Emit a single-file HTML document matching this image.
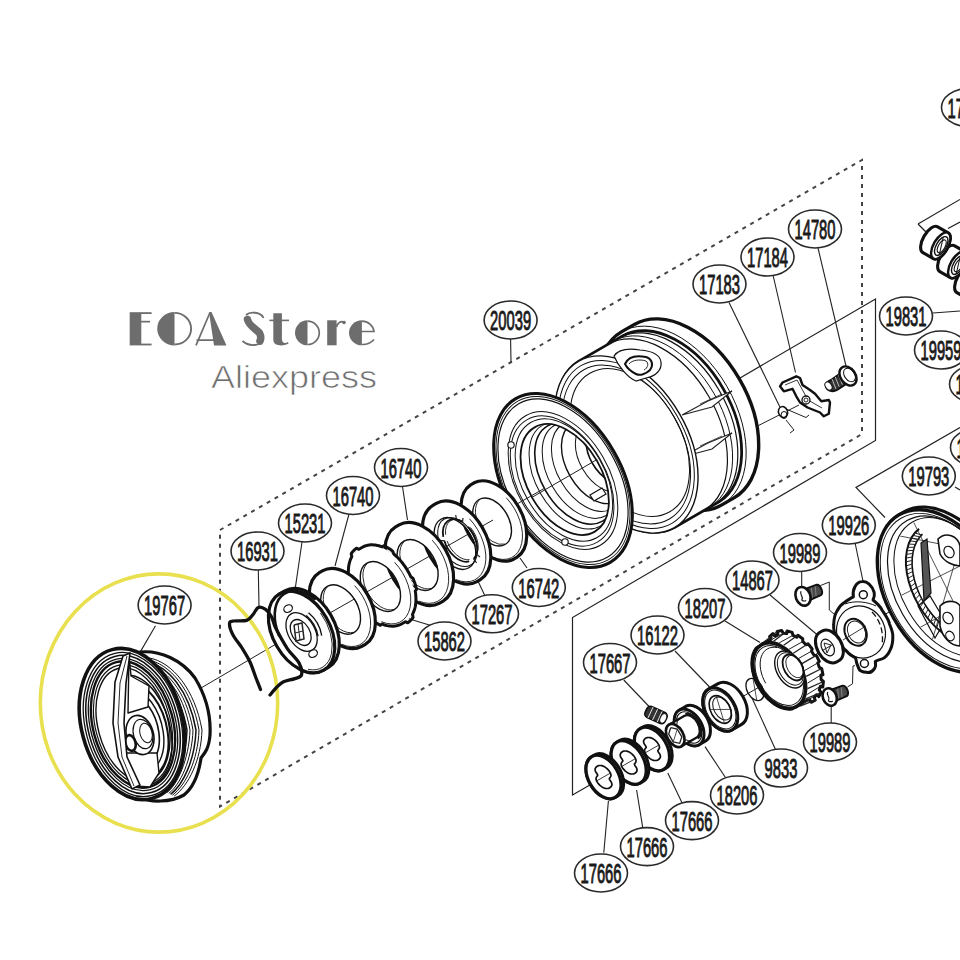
<!DOCTYPE html>
<html><head><meta charset="utf-8"><style>
html,body{margin:0;padding:0;background:#fff;}
svg{display:block;}
.eoa{font-family:"Liberation Sans",sans-serif;font-size:47px;font-weight:bold;fill:#6b6b6b;}
.ali{font-family:"Liberation Sans",sans-serif;font-size:32px;fill:#6e6e6e;stroke:#fff;stroke-width:0.7px;}
.lb{font-family:"Liberation Sans",sans-serif;font-size:27px;fill:#1a1a1a;stroke:#1a1a1a;stroke-width:1.0px;}
</style></head><body>
<svg width="960" height="960" viewBox="0 0 960 960">
<rect width="960" height="960" fill="#fff"/>
<path d="M220.0 530.0 L862.0 160.0 L862.0 434.0 L220.0 806.5 L220.0 530.0" fill="none" stroke="#444" stroke-width="2.0" stroke-dasharray="4 5"/>
<path d="M740.0 378.0 L875.5 299.0 L875.5 440.5 L572.5 617.5 L572.5 795.0 L602.0 778.0" fill="none" stroke="#222" stroke-width="1.2"/>
<path d="M960.0 427.5 L856.0 487.5 L885.0 517.5" fill="none" stroke="#222" stroke-width="1.2"/>
<path d="M155.5 625.7 L139.4 653.4" fill="none" stroke="#222" stroke-width="1.1"/>
<path d="M258.3 570.0 L259.0 606.0" fill="none" stroke="#222" stroke-width="1.1"/>
<path d="M302.0 542.0 L295.0 590.0" fill="none" stroke="#222" stroke-width="1.1"/>
<path d="M349.0 514.0 L335.0 566.0" fill="none" stroke="#222" stroke-width="1.1"/>
<path d="M402.5 486.5 L407.5 520.0" fill="none" stroke="#222" stroke-width="1.1"/>
<path d="M510.6 339.0 L511.0 362.0" fill="none" stroke="#222" stroke-width="1.1"/>
<path d="M729.0 302.5 L785.0 417.5" fill="none" stroke="#222" stroke-width="1.1"/>
<path d="M773.0 275.0 L795.5 372.5" fill="none" stroke="#222" stroke-width="1.1"/>
<path d="M818.0 248.0 L846.0 366.0" fill="none" stroke="#222" stroke-width="1.1"/>
<path d="M527.0 568.0 L520.0 558.0" fill="none" stroke="#222" stroke-width="1.1"/>
<path d="M485.0 596.0 L477.5 580.0" fill="none" stroke="#222" stroke-width="1.1"/>
<path d="M432.5 626.0 L408.8 618.8" fill="none" stroke="#222" stroke-width="1.1"/>
<path d="M933.0 313.0 L960.0 311.0" fill="none" stroke="#222" stroke-width="1.1"/>
<path d="M955.0 487.0 L960.0 490.0" fill="none" stroke="#222" stroke-width="1.1"/>
<path d="M855.0 542.5 L863.8 585.0" fill="none" stroke="#222" stroke-width="1.1"/>
<path d="M801.7 571.0 L801.7 586.7" fill="none" stroke="#222" stroke-width="1.1"/>
<path d="M770.0 595.0 L817.5 635.0" fill="none" stroke="#222" stroke-width="1.1"/>
<path d="M725.0 621.0 L760.0 642.5" fill="none" stroke="#222" stroke-width="1.1"/>
<path d="M675.0 651.0 L710.0 687.5" fill="none" stroke="#222" stroke-width="1.1"/>
<path d="M623.8 680.0 L650.0 707.5" fill="none" stroke="#222" stroke-width="1.1"/>
<path d="M831.2 723.0 L831.2 706.0" fill="none" stroke="#222" stroke-width="1.1"/>
<path d="M775.6 749.7 L752.0 698.0" fill="none" stroke="#222" stroke-width="1.1"/>
<path d="M725.6 777.8 L705.0 746.6" fill="none" stroke="#222" stroke-width="1.1"/>
<path d="M682.0 802.8 L667.8 773.0" fill="none" stroke="#222" stroke-width="1.1"/>
<path d="M642.8 827.8 L636.6 790.0" fill="none" stroke="#222" stroke-width="1.1"/>
<path d="M603.8 852.8 L608.4 801.0" fill="none" stroke="#222" stroke-width="1.1"/>
<path d="M201.0 688.0 L300.0 630.0" fill="none" stroke="#222" stroke-width="1.0"/>
<path d="M300.0 630.0 L493.0 520.0" fill="none" stroke="#222" stroke-width="1.0"/>
<path d="M634.4 324.4A64.0 100.0 -30 0 1 734.4 497.6L721.4 505.1A64.0 100.0 -30 0 1 621.4 331.9Z" fill="#fff" stroke="#111" stroke-width="3.4" stroke-linejoin="round"/>
<path d="M623.4 335.4A61.4 96.0 -30 0 1 719.4 501.6L674.4 527.6A61.4 96.0 -30 0 1 578.4 361.4Z" fill="#fff" stroke="#111" stroke-width="2.8" stroke-linejoin="round"/>
<path d="M619.5 333.1A64.0 100.0 -30 1 1 719.4 506.2" fill="none" stroke="#111" stroke-width="1.0"/>
<path d="M620.1 337.3A61.4 96.0 -30 0 1 716.0 503.5" fill="none" stroke="#111" stroke-width="1.2"/>
<path d="M614.9 340.3A61.4 96.0 -30 0 1 710.8 506.5" fill="none" stroke="#111" stroke-width="1.0"/>
<path d="M609.7 343.3A61.4 96.0 -30 0 1 705.6 509.5" fill="none" stroke="#111" stroke-width="1.2"/>
<path d="M682.0 415.0 L708.0 401.0 L732.0 391.0 L712.0 407.0 L682.0 415.0" fill="#fff" stroke="#222" stroke-width="1.1"/>
<path d="M700.0 404.0 L722.0 394.0" fill="none" stroke="#222" stroke-width="0.8"/>
<path d="M682.0 457.0 L708.0 443.0 L732.0 433.0 L712.0 449.0 L682.0 457.0" fill="#fff" stroke="#222" stroke-width="1.1"/>
<path d="M700.0 446.0 L722.0 436.0" fill="none" stroke="#222" stroke-width="0.8"/>
<ellipse cx="626.4" cy="444.5" rx="61.4" ry="96.0" transform="rotate(-30 626.4 444.5)" fill="#fff" stroke="#111" stroke-width="1.4" />
<ellipse cx="626.4" cy="444.5" rx="58.2" ry="91.0" transform="rotate(-30 626.4 444.5)" fill="none" stroke="#111" stroke-width="1.0" />
<ellipse cx="626.4" cy="444.5" rx="55.0" ry="86.0" transform="rotate(-30 626.4 444.5)" fill="none" stroke="#111" stroke-width="1.0" />
<ellipse cx="629.8" cy="442.5" rx="51.2" ry="80.0" transform="rotate(-30 629.8 442.5)" fill="none" stroke="#111" stroke-width="1.0" />
<path d="M614 356 C618 350 628 348 640 350 C652 351 660 354 661 362 C662 370 656 376 646 378 L636 381 C628 378 618 366 614 356 Z" fill="#fff" stroke="#111" stroke-width="1.2"/>
<path d="M625 364 C628 357 636 355 646 357 C652 359 654 365 650 370 C646 374 640 376 636 374 C632 372 627 368 625 364 Z" fill="#fff" stroke="#111" stroke-width="2.0"/>
<path d="M629 364 C632 360 640 359 646 361 C649 363 648 368 644 370" fill="none" stroke="#111" stroke-width="0.9"/>
<ellipse cx="563.0" cy="480.5" rx="58.6" ry="94.5" transform="rotate(-30 563.0 480.5)" fill="#fff" stroke="#111" stroke-width="3.0" />
<ellipse cx="563.0" cy="480.5" rx="56.6" ry="91.3" transform="rotate(-30 563.0 480.5)" fill="none" stroke="#111" stroke-width="0.9" />
<ellipse cx="563.0" cy="480.5" rx="55.0" ry="88.7" transform="rotate(-30 563.0 480.5)" fill="none" stroke="#111" stroke-width="1.2" />
<ellipse cx="563.0" cy="480.5" rx="46.3" ry="74.7" transform="rotate(-30 563.0 480.5)" fill="none" stroke="#111" stroke-width="1.0" />
<ellipse cx="562.1" cy="481.0" rx="43.8" ry="70.6" transform="rotate(-30 562.1 481.0)" fill="none" stroke="#111" stroke-width="1.0" />
<ellipse cx="563.9" cy="480.0" rx="41.2" ry="66.4" transform="rotate(-30 563.9 480.0)" fill="none" stroke="#111" stroke-width="1.0" />
<ellipse cx="564.7" cy="479.5" rx="37.3" ry="60.2" transform="rotate(-30 564.7 479.5)" fill="#fff" stroke="#111" stroke-width="1.8" />
<clipPath id="bore"><path d="M535.1 428.3A36.7 59.2 -30 1 1 594.3 530.7A36.7 59.2 -30 1 1 535.1 428.3Z"/></clipPath>
<g clip-path="url(#bore)">
<ellipse cx="571.7" cy="475.5" rx="36.0" ry="58.1" transform="rotate(-30 571.7 475.5)" fill="none" stroke="#111" stroke-width="1.0" />
<ellipse cx="575.1" cy="473.5" rx="34.1" ry="55.0" transform="rotate(-30 575.1 473.5)" fill="none" stroke="#111" stroke-width="1.6" />
<ellipse cx="580.3" cy="470.5" rx="32.2" ry="51.9" transform="rotate(-30 580.3 470.5)" fill="none" stroke="#111" stroke-width="1.0" />
<ellipse cx="587.2" cy="466.5" rx="30.2" ry="48.8" transform="rotate(-30 587.2 466.5)" fill="none" stroke="#111" stroke-width="1.0" />
<ellipse cx="594.2" cy="462.5" rx="27.7" ry="44.6" transform="rotate(-30 594.2 462.5)" fill="none" stroke="#111" stroke-width="1.4" />
<ellipse cx="602.8" cy="457.5" rx="23.2" ry="37.4" transform="rotate(-30 602.8 457.5)" fill="none" stroke="#111" stroke-width="1.0" />
<ellipse cx="609.8" cy="453.5" rx="20.0" ry="32.2" transform="rotate(-30 609.8 453.5)" fill="none" stroke="#111" stroke-width="1.6" />
<path d="M493.0 520.0 L610.0 452.0" fill="none" stroke="#222" stroke-width="1.0"/>
</g>
<path d="M517.0 504.0 L545.0 488.0" fill="none" stroke="#222" stroke-width="1.0"/>
<g clip-path="url(#bore)">
<path d="M590 495 L602 488 L606 494 L594 501 Z" fill="#fff" stroke="#111" stroke-width="1.2"/>
</g>
<circle cx="511" cy="445" r="3.2" fill="#fff" stroke="#111" stroke-width="1.1"/>
<circle cx="565" cy="542" r="3.2" fill="#fff" stroke="#111" stroke-width="1.1"/>
<path d="M474.1 482.8A27.5 43.0 -30 0 1 517.1 557.2L513.6 559.2A27.5 43.0 -30 0 1 470.6 484.8ZM479.1 499.5A16.6 26.0 -30 1 1 505.1 544.5A16.6 26.0 -30 1 1 479.1 499.5Z" fill="#fff" fill-rule="evenodd" stroke="none"/>
<path d="M474.1 482.8A27.5 43.0 -30 0 1 517.1 557.2L513.6 559.2A27.5 43.0 -30 0 1 470.6 484.8Z" fill="none" stroke="#111" stroke-width="3.2" stroke-linejoin="round"/>
<path d="M506.3 497.8A25.9 40.5 -30 0 1 493.2 557.2" fill="none" stroke="#111" stroke-width="0.9"/>
<ellipse cx="492.1" cy="522.0" rx="16.6" ry="26.0" transform="rotate(-30 492.1 522.0)" fill="none" stroke="#111" stroke-width="1.4" />
<path d="M505.0 544.1A16.6 26.0 -30 0 1 479.4 499.8" fill="none" stroke="#111" stroke-width="0.9"/>
<path d="M436.3 503.4A28.2 44.0 -30 0 1 480.3 579.6L476.9 581.6A28.2 44.0 -30 0 1 432.9 505.4ZM440.9 519.3A17.9 28.0 -30 1 1 468.9 567.7A17.9 28.0 -30 1 1 440.9 519.3Z" fill="#fff" fill-rule="evenodd" stroke="none"/>
<path d="M436.3 503.4A28.2 44.0 -30 0 1 480.3 579.6L476.9 581.6A28.2 44.0 -30 0 1 432.9 505.4Z" fill="none" stroke="#111" stroke-width="3.2" stroke-linejoin="round"/>
<path d="M469.4 518.7A26.6 41.5 -30 0 1 456.0 579.6" fill="none" stroke="#111" stroke-width="0.9"/>
<ellipse cx="454.9" cy="543.5" rx="17.9" ry="28.0" transform="rotate(-30 454.9 543.5)" fill="none" stroke="#111" stroke-width="1.4" />
<ellipse cx="457.5" cy="542.0" rx="17.0" ry="26.5" transform="rotate(-30 457.5 542.0)" fill="none" stroke="#111" stroke-width="1.0" />
<path d="M443.3 536.9A14.7 23.0 -30 0 1 462.5 522.1" fill="none" stroke="#111" stroke-width="1.8"/>
<path d="M445.6 534.7A14.1 22.0 -30 0 1 462.9 521.2" fill="none" stroke="#111" stroke-width="0.9"/>
<path d="M468.1 526.8A14.7 23.0 -30 0 1 473.6 558.8" fill="none" stroke="#111" stroke-width="1.8"/>
<path d="M470.5 527.5A14.1 22.0 -30 0 1 475.4 556.3" fill="none" stroke="#111" stroke-width="0.9"/>
<path d="M469.2 561.4A14.7 23.0 -30 0 1 444.2 540.6" fill="none" stroke="#111" stroke-width="1.8"/>
<path d="M469.5 559.7A14.1 22.0 -30 0 1 447.1 541.0" fill="none" stroke="#111" stroke-width="0.9"/>
<path d="M462.5 522.1 L463.0 518.0" fill="none" stroke="#222" stroke-width="1.2"/>
<path d="M456.5 519.6 L455.7 515.0" fill="none" stroke="#222" stroke-width="1.2"/>
<path d="M473.6 558.8 L476.6 562.8" fill="none" stroke="#222" stroke-width="1.2"/>
<path d="M476.4 554.1 L480.0 557.0" fill="none" stroke="#222" stroke-width="1.2"/>
<path d="M444.2 540.6 L440.7 540.6" fill="none" stroke="#222" stroke-width="1.2"/>
<path d="M447.3 547.9 L444.6 549.5" fill="none" stroke="#222" stroke-width="1.2"/>
<path d="M399.1 524.9A28.2 44.0 -30 0 1 443.1 601.1L439.6 603.1A28.2 44.0 -30 0 1 395.6 526.9ZM403.9 541.2A17.6 27.5 -30 1 1 431.4 588.8A17.6 27.5 -30 1 1 403.9 541.2Z" fill="#fff" fill-rule="evenodd" stroke="none"/>
<path d="M399.1 524.9A28.2 44.0 -30 0 1 443.1 601.1L439.6 603.1A28.2 44.0 -30 0 1 395.6 526.9Z" fill="none" stroke="#111" stroke-width="3.2" stroke-linejoin="round"/>
<path d="M432.2 540.2A26.6 41.5 -30 0 1 418.8 601.1" fill="none" stroke="#111" stroke-width="0.9"/>
<ellipse cx="417.6" cy="565.0" rx="17.6" ry="27.5" transform="rotate(-30 417.6 565.0)" fill="none" stroke="#111" stroke-width="1.4" />
<path d="M431.1 588.5A17.6 27.5 -30 0 1 404.1 541.6" fill="none" stroke="#111" stroke-width="0.9"/>
<path d="M362.4 547.3A27.5 43.0 -30 0 1 405.4 621.7L401.9 623.7A27.5 43.0 -30 0 1 358.9 549.3ZM366.9 563.1A17.3 27.0 -30 1 1 393.9 609.9A17.3 27.0 -30 1 1 366.9 563.1Z" fill="#fff" fill-rule="evenodd" stroke="none"/>
<path d="M362.4 547.3A27.5 43.0 -30 0 1 405.4 621.7L401.9 623.7A27.5 43.0 -30 0 1 358.9 549.3Z" fill="none" stroke="#111" stroke-width="0.1" stroke-linejoin="round"/>
<path d="M362.4 547.3 L363.6 546.6 L365.0 546.0 L366.4 545.6 L367.8 545.2 L369.3 545.0 L370.8 544.8 L372.3 544.8 L373.9 544.9 L375.5 545.1 L377.2 545.4 L378.8 545.8 L380.5 546.3 L382.2 546.9 L383.8 545.7 L385.6 546.6 L387.4 547.6 L389.1 548.6 L390.9 549.8 L392.6 551.1 L393.8 554.0 L395.3 555.3 L396.9 556.8 L398.4 558.3 L399.9 559.9 L401.3 561.6 L402.7 563.3 L404.0 565.1 L405.3 566.9 L406.5 568.8 L407.7 570.7 L408.8 572.7 L409.8 574.7 L410.8 576.7 L413.1 578.5 L413.9 580.7 L414.7 582.8 L415.4 585.0 L416.0 587.2 L416.5 589.4 L415.3 591.2 L415.6 593.2 L415.8 595.3 L415.9 597.2 L416.0 599.2 L415.9 601.1 L415.8 603.0 L415.6 604.8 L415.3 606.5 L414.9 608.2 L414.4 609.9 L413.8 611.4 L413.2 612.9 L412.5 614.3 L413.1 617.3 L412.2 618.6 L411.2 619.8 L410.1 620.9 L409.0 621.9 L407.8 622.8 L405.4 621.7 L401.9 623.7 L400.6 624.4 L399.3 625.0 L397.9 625.4 L396.5 625.8 L395.0 626.0 L393.5 626.2 L391.9 626.2 L390.4 626.1 L388.7 625.9 L387.1 625.6 L385.5 625.2 L383.8 624.7 L382.1 624.1 L380.4 625.3 L378.7 624.4 L376.9 623.4 L375.2 622.4 L373.4 621.2 L371.7 619.9 L370.5 617.0 L368.9 615.7 L367.4 614.2 L365.9 612.7 L364.4 611.1 L363.0 609.4 L361.6 607.7 L360.2 605.9 L359.0 604.1 L357.7 602.2 L356.6 600.3 L355.5 598.3 L354.5 596.3 L353.5 594.3 L351.2 592.5 L350.4 590.3 L349.6 588.2 L348.9 586.0 L348.3 583.8 L347.8 581.6 L349.0 579.8 L348.7 577.8 L348.5 575.7 L348.4 573.8 L348.3 571.8 L348.4 569.9 L348.5 568.0 L348.7 566.2 L349.0 564.5 L349.4 562.8 L349.9 561.1 L350.4 559.6 L351.1 558.1 L351.8 556.7 L351.2 553.7 L352.1 552.4 L353.1 551.2 L354.2 550.1 L355.3 549.1 L356.5 548.2 L358.9 549.3Z" fill="none" stroke="#111" stroke-width="3.0" stroke-linejoin="round"/>
<path d="M394.6 562.3A25.9 40.5 -30 0 1 381.5 621.7" fill="none" stroke="#111" stroke-width="0.9"/>
<ellipse cx="380.4" cy="586.5" rx="17.3" ry="27.0" transform="rotate(-30 380.4 586.5)" fill="none" stroke="#111" stroke-width="1.4" />
<path d="M393.7 609.5A17.3 27.0 -30 0 1 367.1 563.5" fill="none" stroke="#111" stroke-width="0.9"/>
<path d="M322.8 570.7A27.2 42.5 -30 0 1 365.3 644.3L361.8 646.3A27.2 42.5 -30 0 1 319.3 572.7ZM327.2 586.4A17.1 26.7 -30 1 1 353.9 632.6A17.1 26.7 -30 1 1 327.2 586.4Z" fill="#fff" fill-rule="evenodd" stroke="none"/>
<path d="M322.8 570.7A27.2 42.5 -30 0 1 365.3 644.3L361.8 646.3A27.2 42.5 -30 0 1 319.3 572.7Z" fill="none" stroke="#111" stroke-width="3.2" stroke-linejoin="round"/>
<path d="M354.6 585.6A25.6 40.0 -30 0 1 341.6 644.3" fill="none" stroke="#111" stroke-width="0.9"/>
<ellipse cx="340.6" cy="609.5" rx="17.1" ry="26.7" transform="rotate(-30 340.6 609.5)" fill="none" stroke="#111" stroke-width="1.4" />
<path d="M353.7 632.3A17.1 26.7 -30 0 1 327.5 586.7" fill="none" stroke="#111" stroke-width="0.9"/>
<path d="M284.8 590.9A28.2 44.0 -30 0 1 328.8 667.1L323.6 670.1A28.2 44.0 -30 0 1 279.6 593.9ZM301.6 631.9A0.1 0.1 -30 1 1 301.7 632.1A0.1 0.1 -30 1 1 301.6 631.9Z" fill="#fff" fill-rule="evenodd" stroke="none"/>
<path d="M284.8 590.9A28.2 44.0 -30 0 1 328.8 667.1L323.6 670.1A28.2 44.0 -30 0 1 279.6 593.9Z" fill="none" stroke="#111" stroke-width="3.2" stroke-linejoin="round"/>
<path d="M279.6 593.9A28.2 44.0 -30 1 1 323.6 670.1A28.2 44.0 -30 1 1 279.6 593.9Z" fill="#fff" stroke="#111" stroke-width="3.2"/>
<path d="M279.4 636.4A26.9 42.0 -30 0 1 315.6 599.7" fill="none" stroke="#111" stroke-width="2.6"/>
<path d="M320.4 612.9A26.2 41.0 -30 0 1 308.0 669.3" fill="none" stroke="#111" stroke-width="0.9"/>
<ellipse cx="301.6" cy="632.0" rx="13.4" ry="21.0" transform="rotate(-30 301.6 632.0)" fill="#fff" stroke="#111" stroke-width="1.3" />
<ellipse cx="300.7" cy="632.5" rx="9.0" ry="14.0" transform="rotate(-30 300.7 632.5)" fill="#fff" stroke="#111" stroke-width="1.3" />
<ellipse cx="288.1" cy="608.6" rx="4.5" ry="3.5" transform="rotate(-30 288.1 608.6)" fill="#fff" stroke="#111" stroke-width="1.2"/>
<ellipse cx="313.1" cy="653.6" rx="4.5" ry="3.5" transform="rotate(-30 313.1 653.6)" fill="#fff" stroke="#111" stroke-width="1.2"/>
<path d="M307.4 614.2A16.0 25.0 -30 0 1 319.9 635.9" fill="none" stroke="#111" stroke-width="5"/>
<path d="M307.4 614.2A16.0 25.0 -30 0 1 319.9 635.9" fill="none" stroke="#fff" stroke-width="2.4"/>
<path d="M294.0 625.0 L302.0 623.0 L304.0 639.0 L296.0 641.0 L294.0 625.0" fill="none" stroke="#222" stroke-width="1.5"/>
<path d="M298.0 624.0 L300.0 640.0" fill="none" stroke="#222" stroke-width="1.0"/>
<path d="M295.0 633.0 L303.0 631.0" fill="none" stroke="#222" stroke-width="1.0"/>
<ellipse cx="159" cy="703" rx="118.7" ry="129.1" fill="none" stroke="#e9e050" stroke-width="3.6"/>
<path d="M260.5 689.5 C259.8 687.6 257.8 682.6 256.0 678.0 C254.2 673.4 252.3 667.0 250.0 662.0 C247.7 657.0 244.8 652.5 242.0 648.0 C239.2 643.5 235.1 639.0 233.0 635.0 C230.9 631.0 229.5 626.3 229.5 624.0 C229.5 621.7 230.1 621.6 233.0 621.0 C235.9 620.4 243.4 621.3 246.7 620.3 C249.9 619.3 250.6 617.3 252.5 615.2 C254.4 613.1 256.1 608.5 258.3 607.5 C260.5 606.5 263.4 607.9 265.6 609.4 C267.8 610.9 269.8 613.6 271.5 616.7 C273.2 619.9 273.1 623.0 275.8 628.3 C278.5 633.6 283.6 642.9 287.5 648.8 C291.4 654.6 296.9 658.9 299.2 663.3 C301.5 667.7 302.2 672.5 301.5 675.0 C300.8 677.5 297.9 677.4 294.8 678.6 C291.7 679.8 286.1 680.4 283.0 682.0 C279.9 683.6 278.2 685.8 276.0 688.0 C273.8 690.2 271.0 693.8 270.0 695.0" fill="none" stroke="#111" stroke-width="3.3" stroke-linecap="round" stroke-linejoin="round"/>
<path d="M140 652 C160 650 182 660 195 678 C206 696 211 716 210 735 C209 748 205 753 201 758 C199 772 195 786 184 795 C170 803 150 802 140 798 Z" fill="#fff" stroke="#111" stroke-width="3.2" stroke-linejoin="round"/>
<path d="M148.5 657.8 C172.6 661.8 195 690 202 730 C201 760 189 785 174.2 796.1" fill="none" stroke="#111" stroke-width="1.0"/>
<path d="M147.0 659.6 C170.2 663.6 192 690 199 730 C198 760 186 785 172.4 795.2" fill="none" stroke="#111" stroke-width="1.0"/>
<path d="M145.5 661.4 C167.8 665.4 189 690 196 730 C195 760 183 785 170.6 794.3" fill="none" stroke="#111" stroke-width="1.5"/>
<path d="M144.0 663.2 C165.4 667.2 186 690 193 730 C192 760 180 785 168.8 793.4" fill="none" stroke="#111" stroke-width="1.0"/>
<path d="M142.5 665.0 C163.0 669.0 183 690 190 730 C189 760 177 785 167.0 792.5" fill="none" stroke="#111" stroke-width="1.0"/>
<path d="M141.0 666.8 C160.6 670.8 180 690 187 730 C186 760 174 785 165.2 791.6" fill="none" stroke="#111" stroke-width="1.5"/>
<path d="M139.5 668.6 C158.2 672.6 177 690 184 730 C183 760 171 785 163.4 790.7" fill="none" stroke="#111" stroke-width="1.0"/>
<ellipse cx="132.0" cy="724.0" rx="50.5" ry="77.0" transform="rotate(-15 132.0 724.0)" fill="#fff" stroke="#111" stroke-width="3.6"/>
<ellipse cx="133.0" cy="724.5" rx="47.5" ry="73.5" transform="rotate(-15 133.0 724.5)" fill="none" stroke="#111" stroke-width="1.3"/>
<ellipse cx="133.0" cy="724.5" rx="45.0" ry="70.5" transform="rotate(-15 133.0 724.5)" fill="none" stroke="#111" stroke-width="1.6"/>
<ellipse cx="133.0" cy="724.5" rx="42.5" ry="67.5" transform="rotate(-15 133.0 724.5)" fill="none" stroke="#111" stroke-width="1.3"/>
<ellipse cx="133.0" cy="724.5" rx="40.0" ry="64.5" transform="rotate(-15 133.0 724.5)" fill="none" stroke="#111" stroke-width="2.4"/>
<ellipse cx="133.0" cy="724.5" rx="37.5" ry="61.0" transform="rotate(-15 133.0 724.5)" fill="none" stroke="#111" stroke-width="1.2"/>
<ellipse cx="133.0" cy="724.5" rx="35.0" ry="58.0" transform="rotate(-15 133.0 724.5)" fill="none" stroke="#111" stroke-width="1.4"/>
<path d="M128.1 675.0 A33 55 -15 0 1 144.6 785.0" fill="none" stroke="#111" stroke-width="1.6"/>
<path d="M130.4 682.0 A28.5 48 -15 0 1 144.7 778.0" fill="none" stroke="#111" stroke-width="2.0"/>
<path d="M131.8 689.0 A24 41 -15 0 1 143.8 771.0" fill="none" stroke="#111" stroke-width="1.4"/>
<path d="M133.2 696.0 A19.5 34 -15 0 1 142.9 764.0" fill="none" stroke="#111" stroke-width="1.6"/>
<path d="M129 655 L131 676 L149 686 L148 707 L128 713 Z" fill="#fff" stroke="#111" stroke-width="1.4" stroke-linejoin="round"/>
<path d="M125 753 L157 753 L159 773 L150 787 L135 786 Z" fill="#fff" stroke="#111" stroke-width="1.4" stroke-linejoin="round"/>
<ellipse cx="140.0" cy="735.0" rx="13.5" ry="20.0" transform="rotate(-15 140.0 735.0)" fill="#fff" stroke="#111" stroke-width="1.6"/>
<ellipse cx="143.0" cy="734.0" rx="9.5" ry="15.0" transform="rotate(-15 143.0 734.0)" fill="none" stroke="#111" stroke-width="1.2"/>
<ellipse cx="146.0" cy="733.0" rx="6.0" ry="10.0" transform="rotate(-15 146.0 733.0)" fill="none" stroke="#111" stroke-width="1.0"/>
<ellipse cx="130.5" cy="743.0" rx="5.0" ry="8.0" transform="rotate(-15 130.5 743.0)" fill="#fff" stroke="#111" stroke-width="2.6"/>
<path d="M123 656 L130 653 L126 683 L124 723 L127 757 L140 785 L132 789 L118 757 L113 723 L115 682 Z" fill="#fff" stroke="#111" stroke-width="1.6" stroke-linejoin="round"/>
<path d="M127 656 L120 683 L118 723 L122 757 L134 786" fill="none" stroke="#111" stroke-width="0.9"/>
<path d="M602.5 777.5 L966.2 567.5" fill="none" stroke="#222" stroke-width="1.0"/>
<path d="M904.2 511.8A56.3 88.0 -30 0 1 992.2 664.2L987.0 667.2A56.3 88.0 -30 0 1 899.0 514.8Z" fill="#fff" stroke="#111" stroke-width="3.2" stroke-linejoin="round"/>
<ellipse cx="943.0" cy="591.0" rx="56.3" ry="88.0" transform="rotate(-30 943.0 591.0)" fill="#fff" stroke="#111" stroke-width="3.4" />
<ellipse cx="943.0" cy="591.0" rx="53.8" ry="84.0" transform="rotate(-30 943.0 591.0)" fill="none" stroke="#111" stroke-width="1.0" />
<ellipse cx="946.5" cy="589.0" rx="50.6" ry="79.0" transform="rotate(-30 946.5 589.0)" fill="none" stroke="#111" stroke-width="1.2" />
<ellipse cx="949.9" cy="587.0" rx="48.0" ry="75.0" transform="rotate(-30 949.9 587.0)" fill="none" stroke="#111" stroke-width="1.0" />
<clipPath id="hous"><path d="M912.9 522.9A47.4 74.0 -30 1 1 986.9 651.1A47.4 74.0 -30 1 1 912.9 522.9Z"/></clipPath>
<g clip-path="url(#hous)">
<path d="M948.3 636.9A42.2 66.0 -30 0 1 919.1 528.9" fill="none" stroke="#111" stroke-width="2.0"/>
<path d="M946.8 628.5A38.4 60.0 -30 0 1 922.5 534.2" fill="none" stroke="#111" stroke-width="1.6"/>
<path d="M943.4 632.7 L944.4 627.2" fill="none" stroke="#222" stroke-width="1.0"/>
<path d="M940.2 630.2 L941.5 624.7" fill="none" stroke="#222" stroke-width="1.0"/>
<path d="M937.0 627.4 L938.5 622.0" fill="none" stroke="#222" stroke-width="1.0"/>
<path d="M933.9 624.4 L935.7 619.1" fill="none" stroke="#222" stroke-width="1.0"/>
<path d="M930.9 621.2 L933.0 616.1" fill="none" stroke="#222" stroke-width="1.0"/>
<path d="M928.0 617.8 L930.3 612.8" fill="none" stroke="#222" stroke-width="1.0"/>
<path d="M925.3 614.3 L927.9 609.5" fill="none" stroke="#222" stroke-width="1.0"/>
<path d="M922.7 610.6 L925.5 606.0" fill="none" stroke="#222" stroke-width="1.0"/>
<path d="M920.3 606.8 L923.3 602.4" fill="none" stroke="#222" stroke-width="1.0"/>
<path d="M918.0 602.8 L921.3 598.7" fill="none" stroke="#222" stroke-width="1.0"/>
<path d="M915.9 598.8 L919.4 594.9" fill="none" stroke="#222" stroke-width="1.0"/>
<path d="M914.0 594.7 L917.8 591.0" fill="none" stroke="#222" stroke-width="1.0"/>
<path d="M912.3 590.6 L916.3 587.2" fill="none" stroke="#222" stroke-width="1.0"/>
<path d="M910.8 586.4 L915.0 583.3" fill="none" stroke="#222" stroke-width="1.0"/>
<path d="M909.5 582.2 L913.9 579.4" fill="none" stroke="#222" stroke-width="1.0"/>
<path d="M908.5 578.0 L913.0 575.5" fill="none" stroke="#222" stroke-width="1.0"/>
<path d="M907.7 573.9 L912.4 571.7" fill="none" stroke="#222" stroke-width="1.0"/>
<path d="M907.1 569.8 L911.9 567.9" fill="none" stroke="#222" stroke-width="1.0"/>
<path d="M906.7 565.7 L911.7 564.2" fill="none" stroke="#222" stroke-width="1.0"/>
<path d="M906.6 561.8 L911.7 560.5" fill="none" stroke="#222" stroke-width="1.0"/>
<path d="M906.7 558.0 L911.9 557.0" fill="none" stroke="#222" stroke-width="1.0"/>
<path d="M907.1 554.2 L912.4 553.6" fill="none" stroke="#222" stroke-width="1.0"/>
<path d="M907.7 550.7 L913.0 550.4" fill="none" stroke="#222" stroke-width="1.0"/>
<path d="M908.5 547.3 L913.9 547.3" fill="none" stroke="#222" stroke-width="1.0"/>
<path d="M909.5 544.1 L915.0 544.4" fill="none" stroke="#222" stroke-width="1.0"/>
<path d="M910.8 541.0 L916.2 541.7" fill="none" stroke="#222" stroke-width="1.0"/>
<path d="M912.3 538.2 L917.7 539.2" fill="none" stroke="#222" stroke-width="1.0"/>
<path d="M914.0 535.6 L919.4 536.8" fill="none" stroke="#222" stroke-width="1.0"/>
<path d="M915.8 533.3 L921.2 534.8" fill="none" stroke="#222" stroke-width="1.0"/>
<path d="M870.0 530.0 L960.0 548.0" fill="none" stroke="#222" stroke-width="0.8"/>
<path d="M880.0 650.0 L960.0 605.0" fill="none" stroke="#222" stroke-width="0.8"/>
<path d="M905.0 505.0 L960.0 615.0" fill="none" stroke="#222" stroke-width="0.8"/>
<path d="M925.0 665.0 L960.0 545.0" fill="none" stroke="#222" stroke-width="0.8"/>
<path d="M880.0 606.0 L960.0 566.0" fill="none" stroke="#222" stroke-width="0.8"/>
<path d="M921 543 L927 539 L931 593 L924 601 Z" fill="#555" stroke="#111" stroke-width="1.2"/>
<path d="M918 606 L930 596 L945 621 L935 638 Z" fill="none" stroke="#111" stroke-width="1.2"/>
<path d="M938 539 C946 531 958 536 960 546 L960 566 C954 566 944 562 940 554 Z" fill="#fff" stroke="#111" stroke-width="1.6"/>
<path d="M940 606 C948 598 958 602 960 606 L960 646 C950 646 942 636 940 626 Z" fill="#fff" stroke="#111" stroke-width="1.6"/>
</g>
<ellipse cx="949.0" cy="552.0" rx="4.8" ry="6.0" transform="rotate(-30 949.0 552.0)" fill="none" stroke="#111" stroke-width="1.2" />
<ellipse cx="948.0" cy="618.0" rx="4.8" ry="6.0" transform="rotate(-30 948.0 618.0)" fill="none" stroke="#111" stroke-width="1.2" />
<ellipse cx="950.0" cy="636.0" rx="4.0" ry="5.0" transform="rotate(-30 950.0 636.0)" fill="none" stroke="#111" stroke-width="1.2" />
<path d="M853.4 596.9 C852 590 856 582 862 581.6 C867 581 872 585 874.2 592.5 C875 596 874 598 873 600 C878 604 880 606 882 610 C886 616 889 620 889.5 624 C892 630 893 633 892.8 636 C893 642 892 646 890.6 649 C889 653 887 656 884 658 C880 660 877 660 875.3 661.4 C876 665 875 668 874.2 669 C872 672 869 673 866.5 672.3 C862 672 860 671 859 669 C857 665 856 661 855.6 658 C852 656 849 654 847 651.5 C843 648 840 645 838 640.6 C835 635 833 630 833.7 624.2 C834 618 835 614 837 611 C839 607 842 604 844.7 602.3 C848 600 851 598 853.4 596.9 Z" fill="#fff" stroke="#111" stroke-width="3" stroke-linejoin="round"/>
<circle cx="863.3" cy="594.7" r="4" fill="#fff" stroke="#111" stroke-width="1.5"/>
<circle cx="864.4" cy="663.5" r="4" fill="#fff" stroke="#111" stroke-width="1.5"/>
<ellipse cx="861.0" cy="632.0" rx="24.0" ry="26.5" transform="rotate(-25 861.0 632.0)" fill="none" stroke="#111" stroke-width="1.2"/>
<path d="M872 612 C880 620 884 632 882 645" fill="none" stroke="#111" stroke-width="1.3" stroke-dasharray="6 3"/>
<path d="M845 604 C855 600 868 602 876 606" fill="none" stroke="#111" stroke-width="1.0"/>
<ellipse cx="855.6" cy="632.3" rx="10.5" ry="14.0" transform="rotate(-25 855.6 632.3)" fill="#fff" stroke="#111" stroke-width="2.0"/>
<ellipse cx="856.5" cy="632.0" rx="8.5" ry="11.5" transform="rotate(-25 856.5 632.0)" fill="none" stroke="#111" stroke-width="0.9"/>
<path d="M843.0 640.0 L866.0 626.0" fill="none" stroke="#222" stroke-width="0.9"/>
<path d="M822.6 630.8A10.9 17.0 -30 0 1 839.6 660.2L836.2 662.2A10.9 17.0 -30 0 1 819.2 632.8ZM823.2 639.7A5.8 9.0 -30 1 1 832.2 655.3A5.8 9.0 -30 1 1 823.2 639.7Z" fill="#fff" fill-rule="evenodd" stroke="none"/>
<path d="M822.6 630.8A10.9 17.0 -30 0 1 839.6 660.2L836.2 662.2A10.9 17.0 -30 0 1 819.2 632.8Z" fill="none" stroke="#111" stroke-width="3.0" stroke-linejoin="round"/>
<ellipse cx="827.7" cy="647.5" rx="5.8" ry="9.0" transform="rotate(-30 827.7 647.5)" fill="none" stroke="#111" stroke-width="1.2" />
<path d="M824.0 643.0 L831.0 645.0 L827.0 653.0 L824.0 643.0" fill="none" stroke="#222" stroke-width="1.0"/>
<path d="M805.3 602.0 L820.9 595.1 A3.1 5.6 -22 0 0 816.7 584.8 L800.7 590.6 Z" fill="#4a4a4a" stroke="#111" stroke-width="2.0" stroke-linejoin="round"/>
<path d="M808.6 599.4 L807.7 589.1" fill="none" stroke="#999" stroke-width="0.7"/>
<path d="M812.4 597.9 L811.4 587.5" fill="none" stroke="#999" stroke-width="0.7"/>
<path d="M816.1 596.4 L815.2 586.0" fill="none" stroke="#999" stroke-width="0.7"/>
<ellipse cx="803.0" cy="596.3" rx="7.3" ry="9.6" transform="rotate(-22 803.0 596.3)" fill="#fff" stroke="#111" stroke-width="2.6"/>
<path d="M801.0 591.3 C799.0 595.3 804.0 596.3 802.0 599.3 C801.0 601.3 805.0 601.3 806.0 600.3" fill="none" stroke="#111" stroke-width="1.2"/>
<path d="M832.0 702.7 L846.6 696.2 A3.1 5.6 -22 0 0 842.4 685.8 L827.4 691.3 Z" fill="#4a4a4a" stroke="#111" stroke-width="2.0" stroke-linejoin="round"/>
<path d="M835.1 700.2 L834.2 689.9" fill="none" stroke="#999" stroke-width="0.7"/>
<path d="M838.6 698.7 L837.7 688.4" fill="none" stroke="#999" stroke-width="0.7"/>
<path d="M842.2 697.3 L841.2 687.0" fill="none" stroke="#999" stroke-width="0.7"/>
<ellipse cx="829.7" cy="697.0" rx="6.8" ry="9.0" transform="rotate(-22 829.7 697.0)" fill="#fff" stroke="#111" stroke-width="2.6"/>
<path d="M827.7 692.0 C825.7 696.0 830.7 697.0 828.7 700.0 C827.7 702.0 831.7 702.0 832.7 701.0" fill="none" stroke="#111" stroke-width="1.2"/>
<path d="M820.4 585.6 L829.3 582.0 L829.3 610.0 L834.0 614.0" fill="none" stroke="#222" stroke-width="1.0"/>
<path d="M847.5 687.0 L852.5 683.8 L853.0 666.0 L855.0 665.6" fill="none" stroke="#222" stroke-width="1.0"/>
<path d="M771.0 639.5 L769.6 636.6 L772.9 633.6 L775.0 635.8 L777.9 634.3 L777.2 631.4 L781.7 630.6 L783.3 633.3 L786.8 633.5 L787.1 630.9 L792.1 632.4 L793.0 635.3 L796.7 637.2 L797.8 635.2 L802.7 638.8 L802.8 641.5 L806.2 644.8 L808.0 643.8 L812.2 648.9 L811.5 651.2 L814.1 655.3 L816.3 655.4 L819.3 661.5 L817.8 662.9 L819.3 667.4 L821.7 668.5 L823.0 674.8 L820.9 675.1 L821.1 679.5 L823.4 681.5 L822.8 687.0 L820.4 686.3 L819.3 689.9 L821.1 692.5 L818.8 696.6 L816.4 694.9 L814.2 697.2 L815.2 700.2 L811.4 702.3 L809.4 699.8 L806.3 700.6 L791.6 709.1 A23.4 36.5 -30 0 1 756.3 648.0 Z" fill="#fff" stroke="#111" stroke-width="3.0" stroke-linejoin="round"/>
<path d="M775.0 635.8 L760.9 643.3" fill="none" stroke="#222" stroke-width="1.0"/>
<path d="M777.2 631.4 L764.4 641.7" fill="none" stroke="#222" stroke-width="1.3"/>
<path d="M783.3 633.3 L769.3 640.8" fill="none" stroke="#222" stroke-width="1.0"/>
<path d="M787.1 630.9 L773.6 641.2" fill="none" stroke="#222" stroke-width="1.3"/>
<path d="M793.0 635.3 L779.2 642.9" fill="none" stroke="#222" stroke-width="1.0"/>
<path d="M797.8 635.2 L783.7 645.2" fill="none" stroke="#222" stroke-width="1.3"/>
<path d="M802.8 641.5 L789.1 649.2" fill="none" stroke="#222" stroke-width="1.0"/>
<path d="M808.0 643.8 L793.3 653.2" fill="none" stroke="#222" stroke-width="1.3"/>
<path d="M811.5 651.2 L797.8 658.9" fill="none" stroke="#222" stroke-width="1.0"/>
<path d="M816.3 655.4 L801.1 664.1" fill="none" stroke="#222" stroke-width="1.3"/>
<path d="M817.8 662.9 L804.2 670.8" fill="none" stroke="#222" stroke-width="1.0"/>
<path d="M821.7 668.5 L806.1 676.4" fill="none" stroke="#222" stroke-width="1.3"/>
<path d="M820.9 675.1 L807.4 683.2" fill="none" stroke="#222" stroke-width="1.0"/>
<path d="M823.4 681.5 L807.6 688.6" fill="none" stroke="#222" stroke-width="1.3"/>
<path d="M820.4 686.3 L806.9 694.6" fill="none" stroke="#222" stroke-width="1.0"/>
<path d="M821.1 692.5 L805.5 698.9" fill="none" stroke="#222" stroke-width="1.3"/>
<path d="M816.4 694.9 L802.9 703.3" fill="none" stroke="#222" stroke-width="1.0"/>
<path d="M815.2 700.2 L800.0 706.1" fill="none" stroke="#222" stroke-width="1.3"/>
<path d="M809.4 699.8 L795.8 708.3" fill="none" stroke="#222" stroke-width="1.0"/>
<ellipse cx="779.2" cy="675.5" rx="22.7" ry="35.5" transform="rotate(-30 779.2 675.5)" fill="#fff" stroke="#111" stroke-width="3.6" />
<ellipse cx="779.2" cy="675.5" rx="20.8" ry="32.5" transform="rotate(-30 779.2 675.5)" fill="none" stroke="#111" stroke-width="1.0" />
<path d="M765.7 683.3A18.6 29.0 -30 0 1 777.2 647.6" fill="none" stroke="#111" stroke-width="1.0"/>
<ellipse cx="789.6" cy="669.5" rx="12.8" ry="20.0" transform="rotate(-30 789.6 669.5)" fill="#fff" stroke="#111" stroke-width="1.4" />
<ellipse cx="790.4" cy="669.0" rx="11.2" ry="17.5" transform="rotate(-30 790.4 669.0)" fill="none" stroke="#111" stroke-width="1.0" />
<ellipse cx="793.0" cy="667.5" rx="9.0" ry="14.0" transform="rotate(-30 793.0 667.5)" fill="#fff" stroke="#111" stroke-width="1.8" />
<ellipse cx="794.8" cy="666.5" rx="7.7" ry="12.0" transform="rotate(-30 794.8 666.5)" fill="none" stroke="#111" stroke-width="0.9" />
<ellipse cx="754.9" cy="689.5" rx="7.7" ry="12.0" transform="rotate(-30 754.9 689.5)" fill="none" stroke="#111" stroke-width="1.3" />
<path d="M753.0 678.6 L756.8 700.4" fill="none" stroke="#222" stroke-width="0.8"/>
<path d="M718.1 683.6A15.0 23.5 -30 0 1 741.6 724.4L732.0 729.9A15.0 23.5 -30 0 1 708.5 689.1Z" fill="#fff" stroke="#111" stroke-width="3.0" stroke-linejoin="round"/>
<ellipse cx="720.3" cy="709.5" rx="15.0" ry="23.5" transform="rotate(-30 720.3 709.5)" fill="#fff" stroke="#111" stroke-width="3.0" />
<ellipse cx="720.3" cy="709.5" rx="13.4" ry="21.0" transform="rotate(-30 720.3 709.5)" fill="none" stroke="#111" stroke-width="1.0" />
<ellipse cx="720.3" cy="709.5" rx="9.6" ry="15.0" transform="rotate(-30 720.3 709.5)" fill="#fff" stroke="#111" stroke-width="1.6" />
<ellipse cx="722.0" cy="708.5" rx="8.0" ry="12.5" transform="rotate(-30 722.0 708.5)" fill="none" stroke="#111" stroke-width="1.0" />
<path d="M716.1 695.7 L724.5 723.3" fill="none" stroke="#222" stroke-width="0.8"/>
<path d="M730.7 709.4 L709.9 709.6" fill="none" stroke="#222" stroke-width="0.8"/>
<path d="M686.0 706.2A12.8 20.0 -30 0 1 706.0 740.8L699.1 744.8A12.8 20.0 -30 0 1 679.1 710.2Z" fill="#fff" stroke="#111" stroke-width="3.0" stroke-linejoin="round"/>
<ellipse cx="689.1" cy="727.5" rx="12.8" ry="20.0" transform="rotate(-30 689.1 727.5)" fill="#fff" stroke="#111" stroke-width="3.0" />
<ellipse cx="689.1" cy="727.5" rx="10.9" ry="17.0" transform="rotate(-30 689.1 727.5)" fill="none" stroke="#111" stroke-width="1.2" />
<path d="M685.3 713.8A9.0 14.0 -30 0 1 697.8 738.6" fill="none" stroke="#111" stroke-width="1.6"/>
<path d="M684.6 715.7A8.0 12.5 -30 0 1 697.1 737.3L681.5 746.3A8.0 12.5 -30 0 1 669.0 724.7Z" fill="#fff" stroke="#111" stroke-width="2.2" stroke-linejoin="round"/>
<path d="M687.6 742.8A8.0 12.5 -30 0 1 675.1 721.2" fill="none" stroke="#111" stroke-width="1.0"/>
<path d="M691.9 740.3A8.0 12.5 -30 0 1 679.4 718.7" fill="none" stroke="#111" stroke-width="1.0"/>
<ellipse cx="675.2" cy="735.5" rx="8.0" ry="12.5" transform="rotate(-30 675.2 735.5)" fill="#fff" stroke="#111" stroke-width="2.6" />
<path d="M670.7 727.7 L677.3 729.1 L681.8 736.9 L679.7 743.3 L673.2 741.9 L668.7 734.1 L670.7 727.7" fill="none" stroke="#222" stroke-width="1.3"/>
<path d="M677.3 729.1 L673.2 741.9" fill="none" stroke="#222" stroke-width="0.8"/>
<g transform="rotate(25 656 715)"><rect x="645" y="709" width="22" height="12" rx="4" fill="#333" stroke="#111" stroke-width="1.6"/><line x1="650" y1="709" x2="650" y2="721" stroke="#fff" stroke-width="0.8"/><line x1="655" y1="709" x2="655" y2="721" stroke="#fff" stroke-width="0.8"/><line x1="660" y1="709" x2="660" y2="721" stroke="#fff" stroke-width="0.8"/><ellipse cx="664" cy="715" rx="3" ry="5" fill="#fff" stroke="#111" stroke-width="1"/></g>
<path d="M642.8 727.1A15.0 23.5 -30 0 1 666.3 767.9L663.7 769.4A15.0 23.5 -30 0 1 640.2 728.6ZM651.9 748.9A0.1 0.1 -30 1 1 652.0 749.1A0.1 0.1 -30 1 1 651.9 748.9Z" fill="#fff" fill-rule="evenodd" stroke="none"/>
<path d="M642.8 727.1A15.0 23.5 -30 0 1 666.3 767.9L663.7 769.4A15.0 23.5 -30 0 1 640.2 728.6Z" fill="none" stroke="#111" stroke-width="3.2" stroke-linejoin="round"/>
<path d="M640.2 728.6A15.0 23.5 -30 1 1 663.7 769.4A15.0 23.5 -30 1 1 640.2 728.6Z" fill="#fff" stroke="#111" stroke-width="3.2"/>
<path d="M658.9 745.0 L659.3 746.2 L659.5 747.5 L659.2 748.6 L658.5 749.6 L657.9 750.3 L657.8 750.9 L658.3 751.9 L659.2 753.2 L660.0 754.6 L660.4 756.0 L660.4 757.1 L660.0 758.0 L659.5 758.7 L658.9 759.3 L658.2 759.8 L657.5 760.2 L656.7 760.4 L655.8 760.5 L654.9 760.5 L653.9 760.4 L653.0 760.1 L652.0 759.7 L651.0 759.2 L650.1 758.6 L649.1 757.9 L648.2 757.1 L647.3 756.1 L646.5 755.2 L645.8 754.1 L645.1 753.0 L644.7 751.8 L644.5 750.5 L644.8 749.4 L645.4 748.4 L646.1 747.7 L646.2 747.1 L645.7 746.1 L644.8 744.8 L644.0 743.4 L643.6 742.0 L643.6 740.9 L644.0 740.0 L644.5 739.3 L645.1 738.7 L645.7 738.2 L646.5 737.8 L647.3 737.6 L648.2 737.5 L649.1 737.5 L650.0 737.6 L651.0 737.9 L652.0 738.3 L653.0 738.8 L653.9 739.4 L654.9 740.1 L655.8 740.9 L656.7 741.9 L657.5 742.8 L658.2 743.9 L658.9 745.0Z" fill="none" stroke="#111" stroke-width="1.7" stroke-linejoin="round"/>
<path d="M645.3 752.8 L658.6 745.2" fill="none" stroke="#222" stroke-width="0.9"/>
<path d="M619.5 740.6A15.0 23.5 -30 0 1 643.0 781.4L640.4 782.9A15.0 23.5 -30 0 1 616.9 742.1ZM628.6 762.4A0.1 0.1 -30 1 1 628.7 762.6A0.1 0.1 -30 1 1 628.6 762.4Z" fill="#fff" fill-rule="evenodd" stroke="none"/>
<path d="M619.5 740.6A15.0 23.5 -30 0 1 643.0 781.4L640.4 782.9A15.0 23.5 -30 0 1 616.9 742.1Z" fill="none" stroke="#111" stroke-width="3.2" stroke-linejoin="round"/>
<path d="M616.9 742.1A15.0 23.5 -30 1 1 640.4 782.9A15.0 23.5 -30 1 1 616.9 742.1Z" fill="#fff" stroke="#111" stroke-width="3.2"/>
<path d="M635.5 758.5 L635.9 759.7 L636.1 761.0 L635.8 762.1 L635.2 763.1 L634.5 763.8 L634.4 764.4 L634.9 765.4 L635.8 766.7 L636.6 768.1 L637.0 769.5 L637.0 770.6 L636.7 771.5 L636.2 772.2 L635.6 772.8 L634.9 773.3 L634.1 773.7 L633.3 773.9 L632.4 774.0 L631.5 774.0 L630.6 773.9 L629.6 773.6 L628.6 773.2 L627.6 772.7 L626.7 772.1 L625.7 771.4 L624.8 770.6 L624.0 769.6 L623.1 768.7 L622.4 767.6 L621.7 766.5 L621.3 765.3 L621.1 764.0 L621.4 762.9 L622.1 761.9 L622.7 761.2 L622.9 760.6 L622.3 759.6 L621.4 758.3 L620.6 756.9 L620.2 755.5 L620.3 754.4 L620.6 753.5 L621.1 752.8 L621.7 752.2 L622.4 751.7 L623.1 751.3 L623.9 751.1 L624.8 751.0 L625.7 751.0 L626.7 751.1 L627.6 751.4 L628.6 751.8 L629.6 752.3 L630.5 752.9 L631.5 753.6 L632.4 754.4 L633.3 755.4 L634.1 756.3 L634.8 757.4 L635.5 758.5Z" fill="none" stroke="#111" stroke-width="1.7" stroke-linejoin="round"/>
<path d="M622.0 766.3 L635.3 758.7" fill="none" stroke="#222" stroke-width="0.9"/>
<path d="M594.3 755.1A15.0 23.5 -30 0 1 617.8 795.9L615.2 797.4A15.0 23.5 -30 0 1 591.8 756.6ZM603.5 776.9A0.1 0.1 -30 1 1 603.5 777.1A0.1 0.1 -30 1 1 603.5 776.9Z" fill="#fff" fill-rule="evenodd" stroke="none"/>
<path d="M594.3 755.1A15.0 23.5 -30 0 1 617.8 795.9L615.2 797.4A15.0 23.5 -30 0 1 591.8 756.6Z" fill="none" stroke="#111" stroke-width="3.2" stroke-linejoin="round"/>
<path d="M591.8 756.6A15.0 23.5 -30 1 1 615.2 797.4A15.0 23.5 -30 1 1 591.8 756.6Z" fill="#fff" stroke="#111" stroke-width="3.2"/>
<path d="M610.4 773.0 L610.8 774.2 L611.0 775.5 L610.7 776.6 L610.1 777.6 L609.4 778.3 L609.3 778.9 L609.8 779.9 L610.7 781.2 L611.5 782.6 L611.9 784.0 L611.9 785.1 L611.5 786.0 L611.0 786.7 L610.4 787.3 L609.7 787.8 L609.0 788.2 L608.2 788.4 L607.3 788.5 L606.4 788.5 L605.4 788.4 L604.5 788.1 L603.5 787.7 L602.5 787.2 L601.6 786.6 L600.6 785.9 L599.7 785.1 L598.8 784.1 L598.0 783.2 L597.3 782.1 L596.6 781.0 L596.2 779.8 L596.0 778.5 L596.3 777.4 L596.9 776.4 L597.6 775.7 L597.7 775.1 L597.2 774.1 L596.3 772.8 L595.5 771.4 L595.1 770.0 L595.1 768.9 L595.5 768.0 L596.0 767.3 L596.6 766.7 L597.3 766.2 L598.0 765.8 L598.8 765.6 L599.7 765.5 L600.6 765.5 L601.6 765.6 L602.5 765.9 L603.5 766.3 L604.5 766.8 L605.4 767.4 L606.4 768.1 L607.3 768.9 L608.2 769.9 L609.0 770.8 L609.7 771.9 L610.4 773.0Z" fill="none" stroke="#111" stroke-width="1.7" stroke-linejoin="round"/>
<path d="M596.8 780.8 L610.2 773.2" fill="none" stroke="#222" stroke-width="0.9"/>
<path d="M757.5 426.0 L799.0 405.0" fill="none" stroke="#222" stroke-width="1.0"/>
<path d="M786.0 420.0 L794.0 430.0 L790.0 433.0" fill="none" stroke="#222" stroke-width="1.0"/>
<path d="M786.0 409.0 L806.0 417.5 L809.0 415.0" fill="none" stroke="#222" stroke-width="1.0"/>
<ellipse cx="783" cy="412" rx="4.5" ry="5.5" transform="rotate(-20 783 412)" fill="#fff" stroke="#111" stroke-width="1.5"/>
<ellipse cx="784" cy="415" rx="3" ry="3.5" fill="none" stroke="#111" stroke-width="1.0"/>
<path d="M780 386.3 L782.5 382.5 L796.3 376.3 L800 378 L802.5 385 L810 390 L815 393.8 L821.3 401.3 L828.8 400 L830 402.5 L828.8 413.8 L823.8 416.3 L820 412.5 L807.5 407.5 L800 402.5 L796.3 396.3 L792.5 388.8 L783.8 391.3 Z" fill="#fff" stroke="#111" stroke-width="2.4" stroke-linejoin="round"/>
<path d="M785.0 385.0 L797.0 380.0 L808.0 400.0 L822.0 408.0" fill="none" stroke="#222" stroke-width="0.9"/>
<circle cx="806" cy="400" r="4" fill="#fff" stroke="#111" stroke-width="1.3"/>
<circle cx="806" cy="400" r="2" fill="none" stroke="#111" stroke-width="0.9"/>
<path d="M831 380 L845 370 L851 381 L837 390 C832 393 826 390 826 386 C826 383 828 381 831 380 Z" fill="#333" stroke="#111" stroke-width="2" stroke-linejoin="round"/>
<ellipse cx="828.5" cy="386" rx="3" ry="4.5" transform="rotate(-35 828.5 386)" fill="#fff" stroke="#111" stroke-width="1"/>
<path d="M832.0 379.0 L836.0 389.0" fill="none" stroke="#ddd" stroke-width="0.8"/>
<path d="M835.2 376.8 L839.2 386.8" fill="none" stroke="#ddd" stroke-width="0.8"/>
<path d="M838.4 374.6 L842.4 384.6" fill="none" stroke="#ddd" stroke-width="0.8"/>
<path d="M841.6 372.4 L845.6 382.4" fill="none" stroke="#ddd" stroke-width="0.8"/>
<ellipse cx="848" cy="376" rx="7.5" ry="10.5" transform="rotate(-35 848 376)" fill="#fff" stroke="#111" stroke-width="2.4"/>
<ellipse cx="849.5" cy="375" rx="5" ry="7.5" transform="rotate(-35 849.5 375)" fill="none" stroke="#111" stroke-width="1.0"/>
<path d="M918.0 224.0 L960.0 199.4" fill="none" stroke="#222" stroke-width="1.2"/>
<path d="M918.0 224.0 L926.0 232.0" fill="none" stroke="#222" stroke-width="1.2"/>
<path d="M948.0 228.5 L960.0 222.0" fill="none" stroke="#222" stroke-width="1.2"/>
<g transform="translate(970 283) rotate(30) scale(1.1)"><path d="M-6 -13.5 L5 -13.5 A6.5 13.5 0 0 1 5 13.5 L-6 13.5 A6.5 13.5 0 0 1 -6 -13.5 Z" fill="#fff" stroke="#111" stroke-width="2.8" stroke-linejoin="round"/><ellipse cx="5" cy="0" rx="6.5" ry="13.5" fill="#fff" stroke="#111" stroke-width="2.2"/><ellipse cx="5.5" cy="0" rx="4.5" ry="9.5" fill="#fff" stroke="#111" stroke-width="1.3"/><ellipse cx="6" cy="0" rx="3" ry="6.5" fill="none" stroke="#111" stroke-width="1.0"/><line x1="3" y1="-8" x2="8" y2="8" stroke="#111" stroke-width="0.9"/></g>
<g transform="translate(953 262) rotate(30) scale(1.1)"><path d="M-6 -13.5 L5 -13.5 A6.5 13.5 0 0 1 5 13.5 L-6 13.5 A6.5 13.5 0 0 1 -6 -13.5 Z" fill="#fff" stroke="#111" stroke-width="2.8" stroke-linejoin="round"/><ellipse cx="5" cy="0" rx="6.5" ry="13.5" fill="#fff" stroke="#111" stroke-width="2.2"/><ellipse cx="5.5" cy="0" rx="4.5" ry="9.5" fill="#fff" stroke="#111" stroke-width="1.3"/><ellipse cx="6" cy="0" rx="3" ry="6.5" fill="none" stroke="#111" stroke-width="1.0"/><line x1="3" y1="-8" x2="8" y2="8" stroke="#111" stroke-width="0.9"/></g>
<g transform="translate(936 243) rotate(30) scale(1.1)"><path d="M-6 -13.5 L5 -13.5 A6.5 13.5 0 0 1 5 13.5 L-6 13.5 A6.5 13.5 0 0 1 -6 -13.5 Z" fill="#fff" stroke="#111" stroke-width="2.8" stroke-linejoin="round"/><ellipse cx="5" cy="0" rx="6.5" ry="13.5" fill="#fff" stroke="#111" stroke-width="2.2"/><ellipse cx="5.5" cy="0" rx="4.5" ry="9.5" fill="#fff" stroke="#111" stroke-width="1.3"/><ellipse cx="6" cy="0" rx="3" ry="6.5" fill="none" stroke="#111" stroke-width="1.0"/><line x1="3" y1="-8" x2="8" y2="8" stroke="#111" stroke-width="0.9"/></g>
<g fill="#6d6d6d" stroke="none">
<rect x="129.7" y="312.2" width="11.6" height="33.2"/>
<rect x="141" y="312.2" width="10.6" height="1.8"/>
<rect x="141" y="320.8" width="9" height="1.7"/>
<rect x="141" y="343.6" width="10.6" height="1.8"/>
<path d="M174.5 312 A17.3 16.7 0 0 0 174.5 345.4 Z"/>
<path d="M174.5 312.9 A16.6 15.8 0 0 1 174.5 344.5" fill="none" stroke="#6d6d6d" stroke-width="1.9"/>
<path d="M209 312 L211.5 312 L226.5 345.4 L214 345.4 Z"/>
<path d="M209.8 313 L196 345.4 M196.5 340.2 L214.5 340.2" fill="none" stroke="#6d6d6d" stroke-width="1.7"/>
<path d="M263.5 318 C261 312 250 311 246 315" fill="none" stroke="#6d6d6d" stroke-width="1.8"/>
<path d="M247.5 319.5 C249 326 256 329 259.5 333 C261 336 261 339 260 341" fill="none" stroke="#6d6d6d" stroke-width="7.5" stroke-linecap="round"/>
<path d="M263 340 C261 346 249 347 242.5 341" fill="none" stroke="#6d6d6d" stroke-width="1.8"/>
<path d="M273.3 313.3 L281.9 313.3 L281.9 339 C282 343 285 344 288 342 L288.5 343.5 C285 346 273.5 347 273.3 340 Z"/>
<rect x="269.4" y="319.6" width="19.6" height="1.6"/>
<path d="M307.5 320.3 A12.5 12.5 0 0 0 307.5 345.3 Z"/>
<path d="M307.5 321.1 A11.8 11.7 0 0 1 307.5 344.5" fill="none" stroke="#6d6d6d" stroke-width="1.7"/>
<rect x="327.2" y="320.3" width="9.4" height="25"/>
<path d="M336.5 327 C338 322 341 321 344 322" fill="none" stroke="#6d6d6d" stroke-width="1.7"/>
<circle cx="344" cy="322.5" r="1.8"/>
<path d="M361.9 320.3 A12.9 12.5 0 0 0 361.9 345.3 Z"/>
<path d="M361.9 321.1 A12.1 11.7 0 0 1 374 331.5 L361 331.5 M361.9 344.5 C367 344.6 371 343 374 339.5" fill="none" stroke="#6d6d6d" stroke-width="1.7"/>
</g>
<text x="211" y="388" class="ali" textLength="166" lengthAdjust="spacingAndGlyphs">Aliexpress</text>
<ellipse cx="164.6" cy="605.0" rx="26.5" ry="19" fill="#fff" stroke="#2a2a2a" stroke-width="1.6"/>
<text x="164.6" y="615.0" text-anchor="middle" textLength="41.0" lengthAdjust="spacingAndGlyphs" class="lb">19767</text>
<ellipse cx="257.5" cy="551.0" rx="26.5" ry="19" fill="#fff" stroke="#2a2a2a" stroke-width="1.6"/>
<text x="257.5" y="561.0" text-anchor="middle" textLength="41.0" lengthAdjust="spacingAndGlyphs" class="lb">16931</text>
<ellipse cx="305.0" cy="523.0" rx="26.5" ry="19" fill="#fff" stroke="#2a2a2a" stroke-width="1.6"/>
<text x="305.0" y="533.0" text-anchor="middle" textLength="41.0" lengthAdjust="spacingAndGlyphs" class="lb">15231</text>
<ellipse cx="353.0" cy="495.5" rx="26.5" ry="19" fill="#fff" stroke="#2a2a2a" stroke-width="1.6"/>
<text x="353.0" y="505.5" text-anchor="middle" textLength="41.0" lengthAdjust="spacingAndGlyphs" class="lb">16740</text>
<ellipse cx="401.0" cy="467.5" rx="26.5" ry="19" fill="#fff" stroke="#2a2a2a" stroke-width="1.6"/>
<text x="401.0" y="477.5" text-anchor="middle" textLength="41.0" lengthAdjust="spacingAndGlyphs" class="lb">16740</text>
<ellipse cx="510.6" cy="320.0" rx="26.5" ry="19" fill="#fff" stroke="#2a2a2a" stroke-width="1.6"/>
<text x="510.6" y="330.0" text-anchor="middle" textLength="41.0" lengthAdjust="spacingAndGlyphs" class="lb">20039</text>
<ellipse cx="719.5" cy="284.0" rx="26.5" ry="19" fill="#fff" stroke="#2a2a2a" stroke-width="1.6"/>
<text x="719.5" y="294.0" text-anchor="middle" textLength="41.0" lengthAdjust="spacingAndGlyphs" class="lb">17183</text>
<ellipse cx="767.5" cy="257.0" rx="26.5" ry="19" fill="#fff" stroke="#2a2a2a" stroke-width="1.6"/>
<text x="767.5" y="267.0" text-anchor="middle" textLength="41.0" lengthAdjust="spacingAndGlyphs" class="lb">17184</text>
<ellipse cx="815.0" cy="229.0" rx="26.5" ry="19" fill="#fff" stroke="#2a2a2a" stroke-width="1.6"/>
<text x="815.0" y="239.0" text-anchor="middle" textLength="41.0" lengthAdjust="spacingAndGlyphs" class="lb">14780</text>
<ellipse cx="538.8" cy="587.5" rx="26.5" ry="19" fill="#fff" stroke="#2a2a2a" stroke-width="1.6"/>
<text x="538.8" y="597.5" text-anchor="middle" textLength="41.0" lengthAdjust="spacingAndGlyphs" class="lb">16742</text>
<ellipse cx="492.0" cy="613.8" rx="26.5" ry="19" fill="#fff" stroke="#2a2a2a" stroke-width="1.6"/>
<text x="492.0" y="623.8" text-anchor="middle" textLength="41.0" lengthAdjust="spacingAndGlyphs" class="lb">17267</text>
<ellipse cx="444.5" cy="641.0" rx="26.5" ry="19" fill="#fff" stroke="#2a2a2a" stroke-width="1.6"/>
<text x="444.5" y="651.0" text-anchor="middle" textLength="41.0" lengthAdjust="spacingAndGlyphs" class="lb">15862</text>
<ellipse cx="906.0" cy="316.0" rx="26.5" ry="19" fill="#fff" stroke="#2a2a2a" stroke-width="1.6"/>
<text x="906.0" y="326.0" text-anchor="middle" textLength="41.0" lengthAdjust="spacingAndGlyphs" class="lb">19831</text>
<ellipse cx="941.0" cy="350.0" rx="26.5" ry="19" fill="#fff" stroke="#2a2a2a" stroke-width="1.6"/>
<text x="941.0" y="360.0" text-anchor="middle" textLength="41.0" lengthAdjust="spacingAndGlyphs" class="lb">19959</text>
<ellipse cx="976.0" cy="384.0" rx="26.5" ry="19" fill="#fff" stroke="#2a2a2a" stroke-width="1.6"/>
<text x="976.0" y="394.0" text-anchor="middle" textLength="41.0" lengthAdjust="spacingAndGlyphs" class="lb">19000</text>
<ellipse cx="977.0" cy="447.5" rx="26.5" ry="19" fill="#fff" stroke="#2a2a2a" stroke-width="1.6"/>
<text x="977.0" y="457.5" text-anchor="middle" textLength="41.0" lengthAdjust="spacingAndGlyphs" class="lb">19000</text>
<ellipse cx="928.8" cy="476.0" rx="26.5" ry="19" fill="#fff" stroke="#2a2a2a" stroke-width="1.6"/>
<text x="928.8" y="486.0" text-anchor="middle" textLength="41.0" lengthAdjust="spacingAndGlyphs" class="lb">19793</text>
<ellipse cx="968.0" cy="107.5" rx="26.5" ry="19" fill="#fff" stroke="#2a2a2a" stroke-width="1.6"/>
<text x="968.0" y="117.5" text-anchor="middle" textLength="41.0" lengthAdjust="spacingAndGlyphs" class="lb">17000</text>
<ellipse cx="848.8" cy="525.0" rx="26.5" ry="19" fill="#fff" stroke="#2a2a2a" stroke-width="1.6"/>
<text x="848.8" y="535.0" text-anchor="middle" textLength="41.0" lengthAdjust="spacingAndGlyphs" class="lb">19926</text>
<ellipse cx="800.0" cy="552.5" rx="26.5" ry="19" fill="#fff" stroke="#2a2a2a" stroke-width="1.6"/>
<text x="800.0" y="562.5" text-anchor="middle" textLength="41.0" lengthAdjust="spacingAndGlyphs" class="lb">19989</text>
<ellipse cx="752.5" cy="580.0" rx="26.5" ry="19" fill="#fff" stroke="#2a2a2a" stroke-width="1.6"/>
<text x="752.5" y="590.0" text-anchor="middle" textLength="41.0" lengthAdjust="spacingAndGlyphs" class="lb">14867</text>
<ellipse cx="705.0" cy="607.5" rx="26.5" ry="19" fill="#fff" stroke="#2a2a2a" stroke-width="1.6"/>
<text x="705.0" y="617.5" text-anchor="middle" textLength="41.0" lengthAdjust="spacingAndGlyphs" class="lb">18207</text>
<ellipse cx="657.5" cy="635.0" rx="26.5" ry="19" fill="#fff" stroke="#2a2a2a" stroke-width="1.6"/>
<text x="657.5" y="645.0" text-anchor="middle" textLength="41.0" lengthAdjust="spacingAndGlyphs" class="lb">16122</text>
<ellipse cx="610.0" cy="662.5" rx="26.5" ry="19" fill="#fff" stroke="#2a2a2a" stroke-width="1.6"/>
<text x="610.0" y="672.5" text-anchor="middle" textLength="41.0" lengthAdjust="spacingAndGlyphs" class="lb">17667</text>
<ellipse cx="830.0" cy="742.0" rx="26.5" ry="19" fill="#fff" stroke="#2a2a2a" stroke-width="1.6"/>
<text x="830.0" y="752.0" text-anchor="middle" textLength="41.0" lengthAdjust="spacingAndGlyphs" class="lb">19989</text>
<ellipse cx="781.0" cy="768.0" rx="26.5" ry="19" fill="#fff" stroke="#2a2a2a" stroke-width="1.6"/>
<text x="781.0" y="778.0" text-anchor="middle" textLength="32.8" lengthAdjust="spacingAndGlyphs" class="lb">9833</text>
<ellipse cx="737.0" cy="795.0" rx="26.5" ry="19" fill="#fff" stroke="#2a2a2a" stroke-width="1.6"/>
<text x="737.0" y="805.0" text-anchor="middle" textLength="41.0" lengthAdjust="spacingAndGlyphs" class="lb">18206</text>
<ellipse cx="692.0" cy="820.6" rx="26.5" ry="19" fill="#fff" stroke="#2a2a2a" stroke-width="1.6"/>
<text x="692.0" y="830.6" text-anchor="middle" textLength="41.0" lengthAdjust="spacingAndGlyphs" class="lb">17666</text>
<ellipse cx="647.0" cy="846.6" rx="26.5" ry="19" fill="#fff" stroke="#2a2a2a" stroke-width="1.6"/>
<text x="647.0" y="856.6" text-anchor="middle" textLength="41.0" lengthAdjust="spacingAndGlyphs" class="lb">17666</text>
<ellipse cx="601.0" cy="873.0" rx="26.5" ry="19" fill="#fff" stroke="#2a2a2a" stroke-width="1.6"/>
<text x="601.0" y="883.0" text-anchor="middle" textLength="41.0" lengthAdjust="spacingAndGlyphs" class="lb">17666</text>
</svg></body></html>
